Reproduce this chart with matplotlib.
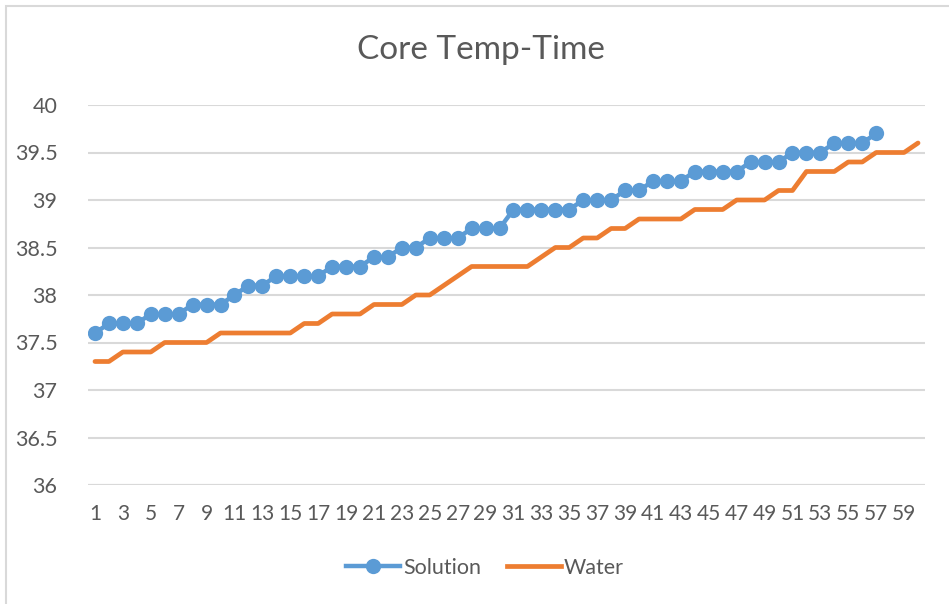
import matplotlib
matplotlib.use("Agg")
import matplotlib.pyplot as plt
from matplotlib.patches import Rectangle
from matplotlib.lines import Line2D

plt.rcParams['font.family'] = ['Lato', 'DejaVu Sans']

title = "Core Temp-Time"
series_names = ["Solution", "Water"]

solution = [37.6, 37.7, 37.7, 37.7, 37.8, 37.8, 37.8, 37.9, 37.9, 37.9,
            38.0, 38.1, 38.1, 38.2, 38.2, 38.2, 38.2, 38.3, 38.3, 38.3,
            38.4, 38.4, 38.5, 38.5, 38.6, 38.6, 38.6, 38.7, 38.7, 38.7,
            38.9, 38.9, 38.9, 38.9, 38.9, 39.0, 39.0, 39.0, 39.1, 39.1,
            39.2, 39.2, 39.2, 39.3, 39.3, 39.3, 39.3, 39.4, 39.4, 39.4,
            39.5, 39.5, 39.5, 39.6, 39.6, 39.6, 39.7]

water = [37.3, 37.3, 37.4, 37.4, 37.4, 37.5, 37.5, 37.5, 37.5, 37.6,
         37.6, 37.6, 37.6, 37.6, 37.6, 37.7, 37.7, 37.8, 37.8, 37.8,
         37.9, 37.9, 37.9, 38.0, 38.0, 38.1, 38.2, 38.3, 38.3, 38.3,
         38.3, 38.3, 38.4, 38.5, 38.5, 38.6, 38.6, 38.7, 38.7, 38.8,
         38.8, 38.8, 38.8, 38.9, 38.9, 38.9, 39.0, 39.0, 39.0, 39.1,
         39.1, 39.3, 39.3, 39.3, 39.4, 39.4, 39.5, 39.5, 39.5, 39.6]

categories = list(range(1, 61))
y_ticks = [36, 36.5, 37, 37.5, 38, 38.5, 39, 39.5, 40]
y_ticklabels = ["36", "36.5", "37", "37.5", "38", "38.5", "39", "39.5", "40"]

W, H = 949, 604
fig = plt.figure(figsize=(W / 100, H / 100), dpi=100)
fig.patch.set_facecolor("white")

# chart border
fig.patches.append(Rectangle((6 / W, -0.1), 1.2, 1 - 6 / H + 0.1,
                             transform=fig.transFigure, fill=False,
                             edgecolor="#d9d9d9", linewidth=1.5, zorder=0))

ax = fig.add_axes([88 / W, (H - 485) / H, 837 / W, 380 / H])
blue = "#5B9BD5"
orange = "#ED7D31"

ax.plot(categories[:len(solution)], solution, color=blue, linewidth=3.2,
        marker="o", markersize=11, markeredgewidth=0, zorder=3,
        solid_joinstyle="round", solid_capstyle="round")
ax.plot(categories[:len(water)], water, color=orange, linewidth=3.4,
        zorder=2, solid_joinstyle="round", solid_capstyle="round")

ax.set_xlim(0.5, 60.5)
ax.set_ylim(36, 40)
ax.set_yticks(y_ticks)
ax.set_yticklabels(y_ticklabels)
ax.set_xticks(categories[::2])
ax.set_xticklabels([str(c) for c in categories[::2]])
ax.tick_params(axis="both", length=0, labelsize=15.5, labelcolor="#595959")
ax.tick_params(axis="y", pad=22)
ax.tick_params(axis="x", pad=14)
for lab in ax.get_xticklabels():
    lab.set_fontsize(15)
ax.grid(axis="y", color="#d9d9d9", linewidth=1.5)
ax.set_axisbelow(True)
for s in ax.spines.values():
    s.set_visible(False)
ax.axhline(36, color="#d9d9d9", linewidth=1.5, zorder=1)

fig.text(480.5 / W, 1 - 50 / H, title, ha="center", va="center",
         fontsize=24, color="#595959")

handles = [Line2D([0], [0], color=blue, linewidth=3.2, marker="o", markersize=11,
                  markeredgewidth=0),
           Line2D([0], [0], color=orange, linewidth=3.4)]
fig.legend(handles, series_names, loc="center", bbox_to_anchor=(485 / W, 1 - 568 / H),
           ncol=2, frameon=False, fontsize=15.5, labelcolor="#595959",
           handlelength=2.5, handletextpad=0.15, columnspacing=1.2)

fig.savefig("out.png", dpi=100)
